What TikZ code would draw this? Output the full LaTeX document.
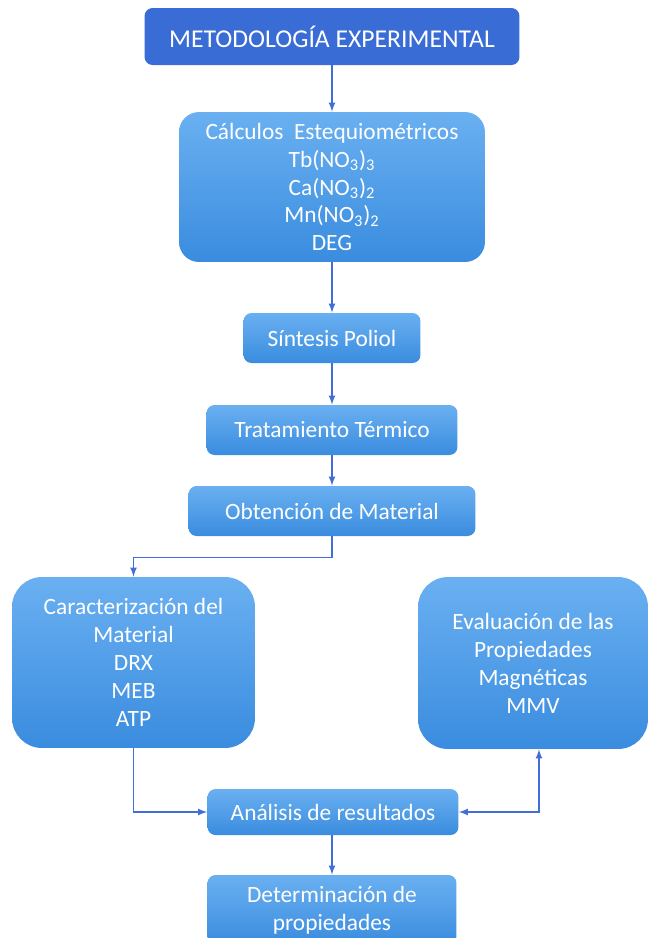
\documentclass[tikz,border=0pt]{standalone}
\usepackage{fontspec}
\setmainfont{Carlito}
\usepackage{tikz}
\usetikzlibrary{arrows}
\usepackage{xcolor}
\definecolor{titleblue}{RGB}{58,108,214}
\definecolor{boxtop}{RGB}{106,176,241}
\definecolor{boxbottom}{RGB}{58,140,223}
\definecolor{lineblue}{RGB}{66,110,218}
\tikzset{font={\fontsize{13.3pt}{15.9pt}\selectfont}}
\tikzset{
  titlebox/.style={fill=titleblue,text=white,rounded corners=0.16cm,align=center,
    font={\fontsize{14.6pt}{17pt}\selectfont}},
  stepbox/.style={top color=boxtop,bottom color=boxbottom,text=white,
    rounded corners=0.16cm,align=center},
  bigbox/.style={stepbox,rounded corners=0.6cm},
  conn/.style={-latex,lineblue,line width=0.8pt},
  conntwo/.style={latex-latex,lineblue,line width=0.8pt}
}

\begin{document}
\begin{tikzpicture}[x=0.02cm,y=-0.02cm]

\useasboundingbox (0,0) rectangle (650,938);
\clip (0,0) rectangle (650,938);

%title
\node[titlebox,minimum width=7.5cm,minimum height=1.14cm] at (332,36.5) (title) {METODOLOGÍA EXPERIMENTAL};

%steps
\node[stepbox,rounded corners=0.4cm,minimum width=6.12cm,minimum height=3cm] at (332,187) (calc)
  {Cálculos\ \ Estequiométricos\\Tb(NO\textsubscript{3})\textsubscript{3}\\Ca(NO\textsubscript{3})\textsubscript{2}\\Mn(NO\textsubscript{3})\textsubscript{2}\\DEG};
\node[stepbox,minimum width=3.54cm,minimum height=1cm] at (332,338) (sint) {Síntesis Poliol};
\node[stepbox,minimum width=5.02cm,minimum height=1cm] at (332,430) (trat) {Tratamiento Térmico};
\node[stepbox,minimum width=5.74cm,minimum height=1cm] at (332,511) (obt) {Obtención de Material};

%characterization and evaluation
\node[bigbox,minimum width=4.86cm,minimum height=3.42cm] at (133.5,662.5) (carac)
  {Caracterización del\\Material\\DRX\\MEB\\ATP};
\node[bigbox,minimum width=4.6cm,minimum height=3.44cm] at (533,663) (eval)
  {Evaluación de las\\Propiedades\\Magnéticas\\MMV};

%results
\node[stepbox,minimum width=5.02cm,minimum height=0.92cm] at (333,812) (anal) {Análisis de resultados};
\node[stepbox,minimum width=4.98cm,minimum height=1.4cm] at (332,910) (det) {Determinación de\\propiedades};

%connectors
\draw[conn] (title.south) -- (calc.north);
\draw[conn] (calc.south) -- (sint.north);
\draw[conn] (sint.south) -- (trat.north);
\draw[conn] (trat.south) -- (obt.north);
\draw[conn] (obt.south) -- +(0,21) -| (carac.north);
\draw[conn] (carac.south) |- (anal.west);
\draw[conntwo] (anal.east) -| ([xshift=0.12cm]eval.south);
\draw[conn] (anal.south -| det.north) -- (det.north);

\end{tikzpicture}
\end{document}
